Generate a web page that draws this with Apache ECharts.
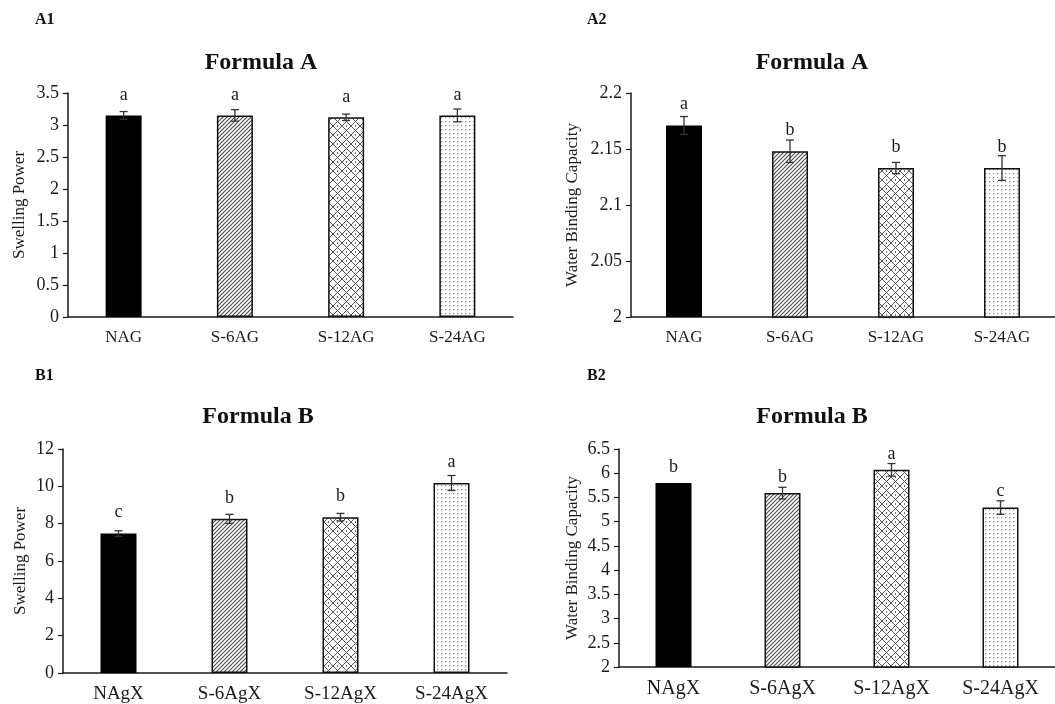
<!DOCTYPE html>
<html><head><meta charset="utf-8">
<script src="https://cdn.jsdelivr.net/npm/echarts@6/dist/echarts.min.js"></script>
<style>html,body{margin:0;padding:0;background:#fff}#c{width:1055px;height:704px}</style>
</head><body><div id="c"></div>
<script>
// ---- data ----
const catsA = ['NAG', 'S-6AG', 'S-12AG', 'S-24AG'];
const catsB = ['NAgX', 'S-6AgX', 'S-12AgX', 'S-24AgX'];
const a1Values = [3.15, 3.15, 3.12, 3.15];
const a1Errors = [0.06, 0.09, 0.05, 0.10];
const a1Letters = ['a', 'a', 'a', 'a'];
const a2Values = [2.171, 2.148, 2.133, 2.133];
const a2Errors = [0.008, 0.010, 0.005, 0.011];
const a2Letters = ['a', 'b', 'b', 'b'];
const b1Values = [7.47, 8.26, 8.35, 10.18];
const b1Errors = [0.15, 0.24, 0.20, 0.40];
const b1Letters = ['c', 'b', 'b', 'a'];
const b2Values = [5.80, 5.59, 6.07, 5.29];
const b2Errors = [0.0, 0.12, 0.13, 0.14];
const b2Letters = ['b', 'b', 'a', 'c'];
const yTicksA1 = {min: 0, max: 3.5, interval: 0.5};
const yTicksA2 = {min: 2, max: 2.2, interval: 0.05};
const yTicksB1 = {min: 0, max: 12, interval: 2};
const yTicksB2 = {min: 2, max: 6.5, interval: 0.5};

// ---- patterns ----
function mk(s, draw) {
  const c = document.createElement('canvas'); c.width = s; c.height = s;
  const g = c.getContext('2d'); g.fillStyle = '#fff'; g.fillRect(0, 0, s, s); draw(g, s); return c;
}
const diagTile = mk(4, (g, s) => {
  g.strokeStyle = '#4a4a4a'; g.lineWidth = 1.1; g.beginPath();
  g.moveTo(0, s); g.lineTo(s, 0); g.moveTo(-1, 1); g.lineTo(1, -1); g.moveTo(s - 1, s + 1); g.lineTo(s + 1, s - 1);
  g.stroke();
});
const crossTile = mk(9, (g, s) => {
  g.strokeStyle = '#555'; g.lineWidth = 1; g.beginPath();
  g.moveTo(0, 0); g.lineTo(s, s); g.moveTo(0, s); g.lineTo(s, 0); g.stroke();
  g.fillStyle = '#777'; g.fillRect(s / 2 - 0.5, 0, 1, 1); g.fillRect(s / 2 - 0.5, s - 1, 1, 1);
});
const dotTile = mk(4, (g, s) => { g.fillStyle = '#888'; g.fillRect(1, 1, 1.2, 1.2); });
const fills = [
  '#000',
  {image: diagTile, repeat: 'repeat'},
  {image: crossTile, repeat: 'repeat'},
  {image: dotTile, repeat: 'repeat'}
];

const FONT = "'Liberation Serif', 'Times New Roman', serif";
const INK = '#1a1a1a';

const grids = [
  {left: 68, top: 93, width: 445, height: 224},
  {left: 631, top: 93, width: 432, height: 224},
  {left: 63, top: 449, width: 444, height: 224},
  {left: 619, top: 449, width: 440, height: 218}
];
const panels = [
  {cats: catsA, vals: a1Values, errs: a1Errors, letters: a1Letters, y: yTicksA1, name: 'Swelling Power', xfs: 17, dist: 11, gap: 40},
  {cats: catsA, vals: a2Values, errs: a2Errors, letters: a2Letters, y: yTicksA2, name: 'Water Binding Capacity', xfs: 17, dist: 12, gap: 50},
  {cats: catsB, vals: b1Values, errs: b1Errors, letters: b1Letters, y: yTicksB1, name: 'Swelling Power', xfs: 19, dist: 12, gap: 34},
  {cats: catsB, vals: b2Values, errs: b2Errors, letters: b2Letters, y: yTicksB2, name: 'Water Binding Capacity', xfs: 20, dist: 7, gap: 38}
];

const xAxis = [], yAxis = [], series = [];
panels.forEach((p, i) => {
  xAxis.push({
    type: 'category', gridIndex: i, data: p.cats,
    axisLine: {lineStyle: {color: INK, width: 1.5}},
    axisTick: {show: false},
    axisLabel: {fontFamily: FONT, fontSize: p.xfs, color: INK, margin: 12}
  });
  yAxis.push({
    type: 'value', gridIndex: i, min: p.y.min, max: p.y.max, interval: p.y.interval,
    name: p.name, nameLocation: 'middle', nameGap: p.gap,
    nameTextStyle: {fontFamily: FONT, fontSize: 17, color: INK},
    axisLine: {show: true, lineStyle: {color: INK, width: 1.5}},
    axisTick: {show: true, length: 5, lineStyle: {color: INK, width: 1.2}},
    splitLine: {show: false},
    axisLabel: {fontFamily: FONT, fontSize: 18, color: INK, margin: 9}
  });
  series.push({
    type: 'bar', xAxisIndex: i, yAxisIndex: i, barWidth: 36,
    data: p.vals.map((v, k) => ({value: v, itemStyle: {color: fills[k], borderColor: '#111', borderWidth: k === 0 ? 0 : 1.5}})),
    label: {show: true, position: 'top', distance: p.dist, fontFamily: FONT, fontSize: 18, color: INK,
      formatter: (prm) => p.letters[prm.dataIndex]},
    silent: true, animation: false
  });
  series.push({
    type: 'custom', xAxisIndex: i, yAxisIndex: i, z: 10, silent: true, animation: false,
    data: p.vals.map((v, k) => [k, v, p.errs[k]]),
    renderItem: (params, api) => {
      const x = api.value(0), v = api.value(1), e = api.value(2);
      if (!e) return null;
      const t = api.coord([x, v + e]), b = api.coord([x, v - e]);
      const st = {stroke: '#333', lineWidth: 1.3};
      return {type: 'group', children: [
        {type: 'line', shape: {x1: t[0], y1: t[1], x2: b[0], y2: b[1]}, style: st},
        {type: 'line', shape: {x1: t[0] - 4, y1: t[1], x2: t[0] + 4, y2: t[1]}, style: st},
        {type: 'line', shape: {x1: b[0] - 4, y1: b[1], x2: b[0] + 4, y2: b[1]}, style: st}
      ]};
    }
  });
});

function txt(t, x, y, size, align) {
  return {type: 'text', x: x, y: y, silent: true,
    style: {text: t, fontFamily: FONT, fontSize: size, fontWeight: 'bold', fill: '#111', align: align || 'center', verticalAlign: 'middle'}};
}
const graphic = [
  txt('A1', 35, 20, 16, 'left'), txt('A2', 587, 20, 16, 'left'),
  txt('B1', 35, 376, 16, 'left'), txt('B2', 587, 376, 16, 'left'),
  txt('Formula A', 261, 63, 24), txt('Formula A', 812, 63, 24),
  txt('Formula B', 258, 417, 24), txt('Formula B', 812, 417, 24)
];

const chart = echarts.init(document.getElementById('c'), null, {renderer: 'canvas'});
chart.setOption({animation: false, backgroundColor: '#fff', grid: grids, xAxis, yAxis, series, graphic});
</script></body></html>
